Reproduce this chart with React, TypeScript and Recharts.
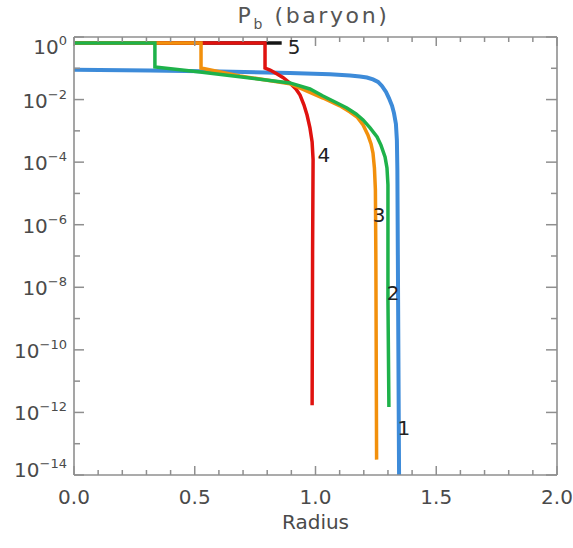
import React from 'react';
import { LineChart, Line, XAxis, YAxis, ReferenceDot } from 'recharts';

// ---------- data ----------
const xTicks = [0, 0.1, 0.2, 0.3, 0.4, 0.5, 0.6, 0.7, 0.8, 0.9, 1.0, 1.1, 1.2, 1.3, 1.4, 1.5, 1.6, 1.7, 1.8, 1.9, 2.0];
const xLabelTicks = [0, 0.5, 1.0, 1.5, 2.0];
const yTicks = [1, 1e-1, 1e-2, 1e-3, 1e-4, 1e-5, 1e-6, 1e-7, 1e-8, 1e-9, 1e-10, 1e-11, 1e-12, 1e-13, 1e-14];
const yLabelExps = [0, -2, -4, -6, -8, -10, -12, -14];

const curve1 = [
  { r: 0, p: 0.089 }, { r: 0.315, p: 0.085 }, { r: 0.605, p: 0.079 }, { r: 0.894, p: 0.071 },
  { r: 1.06, p: 0.064 }, { r: 1.143, p: 0.059 }, { r: 1.184, p: 0.0547 }, { r: 1.213, p: 0.0508 },
  { r: 1.238, p: 0.0439 }, { r: 1.259, p: 0.0365 }, { r: 1.275, p: 0.0272 }, { r: 1.292, p: 0.0175 },
  { r: 1.304, p: 0.0112 }, { r: 1.317, p: 0.0063 }, { r: 1.325, p: 0.0037 }, { r: 1.333, p: 0.00166 },
  { r: 1.337, p: 5.1e-4 }, { r: 1.339, p: 5.6e-5 }, { r: 1.342, p: 4e-9 }, { r: 1.346, p: 1e-14 },
];
const curve2 = [
  { r: 0, p: 0.645 }, { r: 0.335, p: 0.645 }, { r: 0.335, p: 0.11 }, { r: 0.522, p: 0.076 },
  { r: 0.729, p: 0.049 }, { r: 0.894, p: 0.034 }, { r: 0.977, p: 0.0218 }, { r: 1.031, p: 0.013 },
  { r: 1.081, p: 0.00838 }, { r: 1.13, p: 0.0054 }, { r: 1.168, p: 0.00347 }, { r: 1.197, p: 0.00223 },
  { r: 1.226, p: 0.00124 }, { r: 1.255, p: 6.4e-4 }, { r: 1.271, p: 3.5e-4 }, { r: 1.288, p: 1.47e-4 },
  { r: 1.296, p: 6.5e-5 }, { r: 1.3, p: 1.9e-5 }, { r: 1.3, p: 4e-9 }, { r: 1.304, p: 1.5e-12 },
];
const curve3 = [
  { r: 0, p: 0.645 }, { r: 0.526, p: 0.645 }, { r: 0.526, p: 0.102 }, { r: 0.687, p: 0.057 },
  { r: 0.894, p: 0.032 }, { r: 1.031, p: 0.0112 }, { r: 1.101, p: 0.0063 }, { r: 1.143, p: 0.00402 },
  { r: 1.172, p: 0.00278 }, { r: 1.197, p: 0.00155 }, { r: 1.217, p: 7.4e-4 }, { r: 1.23, p: 3.8e-4 },
  { r: 1.238, p: 1.97e-4 }, { r: 1.244, p: 6.5e-5 }, { r: 1.248, p: 1.3e-5 }, { r: 1.25, p: 7.5e-8 },
  { r: 1.253, p: 3.1e-14 },
];
const curve4 = [
  { r: 0, p: 0.645 }, { r: 0.791, p: 0.645 }, { r: 0.791, p: 0.102 }, { r: 0.812, p: 0.088 },
  { r: 0.841, p: 0.0658 }, { r: 0.865, p: 0.0508 }, { r: 0.894, p: 0.034 }, { r: 0.919, p: 0.0218 },
  { r: 0.936, p: 0.014 }, { r: 0.952, p: 0.0068 }, { r: 0.965, p: 0.0032 }, { r: 0.977, p: 0.00124 },
  { r: 0.986, p: 4.4e-4 }, { r: 0.99, p: 1.2e-4 }, { r: 0.988, p: 1.6e-7 }, { r: 0.986, p: 1.7e-12 },
];
const curve5 = [{ r: 0, p: 0.645 }, { r: 0.86, p: 0.645 }];

const curveLabels = [
  { text: '5', r: 0.911, p: 0.5 },
  { text: '4', r: 1.035, p: 1.7e-4 },
  { text: '3', r: 1.263, p: 2.0e-6 },
  { text: '2', r: 1.321, p: 6.6e-9 },
  { text: '1', r: 1.366, p: 3.2e-13 },
];

// ---------- style ----------
const FONT = "'DejaVu Sans', sans-serif";
const AXIS = '#8f8f8f';
const TXT = '#4a4a4a';
const TM = 7;
const axisLine = { stroke: AXIS, strokeWidth: 1.6 };

const isMajorX = (v: number) => xLabelTicks.some((t) => Math.abs(t - v) < 1e-6);

function LeftTick(props: any) {
  const { x, y, payload } = props;
  const e = Math.round(Math.log10(payload.value));
  const major = yLabelExps.includes(e);
  const ax = x + TM;
  let shift = 0;
  if (e === yLabelExps[0]) shift = 9;
  if (e === yLabelExps[yLabelExps.length - 1]) shift = -6;
  return (
    <g>
      <line x1={ax} x2={ax + (major ? 10 : 6)} y1={y} y2={y} stroke={AXIS} strokeWidth={1.5} />
      {major && (
        <text x={x} y={y + 8 + shift} textAnchor="end" fontFamily={FONT} fontSize={20} fill={TXT}>
          10
          <tspan dy={-9} fontSize={13}>{e === 0 ? '0' : '\u2212' + -e}</tspan>
        </text>
      )}
    </g>
  );
}

function RightTick(props: any) {
  const { x, y, payload } = props;
  const e = Math.round(Math.log10(payload.value));
  const major = yLabelExps.includes(e);
  const ax = x - TM;
  return <line x1={ax} x2={ax - (major ? 11 : 6)} y1={y} y2={y} stroke={AXIS} strokeWidth={1.5} />;
}

function BottomTick(props: any) {
  const { x, y, payload } = props;
  const v = payload.value;
  const major = isMajorX(v);
  const ay = y - TM;
  return (
    <g>
      <line x1={x} x2={x} y1={ay} y2={ay - (major ? 9 : 5)} stroke={AXIS} strokeWidth={1.5} />
      {major && (
        <text x={x} y={ay + 29} textAnchor="middle" fontFamily={FONT} fontSize={20} fill={TXT}>
          {v.toFixed(1)}
        </text>
      )}
    </g>
  );
}

function TopTick(props: any) {
  const { x, y, payload } = props;
  const major = isMajorX(payload.value);
  const ay = y + TM;
  return <line x1={x} x2={x} y1={ay} y2={ay + (major ? 9 : 5)} stroke={AXIS} strokeWidth={1.5} />;
}

const TitleLabel = (props: any) => {
  const vb = props.viewBox;
  return (
    <text x={vb.x + vb.width / 2 - 2} y={vb.y + 23} textAnchor="middle" fontFamily={FONT} fontSize={22} fill="#555" letterSpacing={2.6}>
      P<tspan fontSize={14} dy={6}>b</tspan>
      <tspan dy={-6}> (baryon)</tspan>
    </text>
  );
};

const XTitle = (props: any) => {
  const vb = props.viewBox;
  return (
    <text x={vb.x + vb.width / 2} y={vb.y + 54} textAnchor="middle" fontFamily={FONT} fontSize={20} fill={TXT}>
      Radius
    </text>
  );
};

export default function App() {
  return (
    <div style={{ position: 'absolute', left: 0, top: 0, background: '#fff' }}>
      <LineChart width={573} height={548} margin={{ top: 0, right: 0, bottom: 0, left: 0 }}>
        <XAxis
          xAxisId="b" type="number" dataKey="r" domain={[0, 2]} ticks={xTicks} interval={0}
          height={73} tickSize={0} tickMargin={TM} tickLine={false} axisLine={axisLine}
          tick={(p: any) => <BottomTick {...p} />} allowDataOverflow label={<XTitle />}
        />
        <XAxis
          xAxisId="t" orientation="top" type="number" dataKey="r" domain={[0, 2]} ticks={xTicks} interval={0}
          height={37} tickSize={0} tickMargin={TM} tickLine={false} axisLine={axisLine}
          tick={(p: any) => <TopTick {...p} />} allowDataOverflow label={<TitleLabel />}
        />
        <YAxis
          yAxisId="l" type="number" scale="log" dataKey="p" domain={[1e-14, 1]} ticks={yTicks} interval={0}
          width={74} tickSize={0} tickMargin={TM} tickLine={false} axisLine={axisLine}
          tick={(p: any) => <LeftTick {...p} />} allowDataOverflow
        />
        <YAxis
          yAxisId="r" orientation="right" type="number" scale="log" dataKey="p" domain={[1e-14, 1]} ticks={yTicks} interval={0}
          width={16} tickSize={0} tickMargin={TM} tickLine={false} axisLine={axisLine}
          tick={(p: any) => <RightTick {...p} />} allowDataOverflow
        />
        <Line xAxisId="b" yAxisId="l" data={curve1} dataKey="p" type="linear" stroke="#3d8bd9" strokeWidth={4} dot={false} activeDot={false} isAnimationActive={false} />
        <Line xAxisId="b" yAxisId="l" data={curve5} dataKey="p" type="linear" stroke="#151515" strokeWidth={3.5} dot={false} activeDot={false} isAnimationActive={false} />
        <Line xAxisId="b" yAxisId="l" data={curve4} dataKey="p" type="linear" stroke="#e0120f" strokeWidth={3.5} dot={false} activeDot={false} isAnimationActive={false} />
        <Line xAxisId="b" yAxisId="l" data={curve3} dataKey="p" type="linear" stroke="#f2900c" strokeWidth={3.5} dot={false} activeDot={false} isAnimationActive={false} />
        <Line xAxisId="b" yAxisId="l" data={curve2} dataKey="p" type="linear" stroke="#1eb24a" strokeWidth={3.5} dot={false} activeDot={false} isAnimationActive={false} />
        {curveLabels.map((l) => (
          <ReferenceDot
            key={l.text} xAxisId="b" yAxisId="l" x={l.r} y={l.p} r={0} fill="none" stroke="none" ifOverflow="visible"
            label={{ value: l.text, position: 'center', fill: '#222', fontSize: 20, fontFamily: FONT }}
          />
        ))}
      </LineChart>
    </div>
  );
}
